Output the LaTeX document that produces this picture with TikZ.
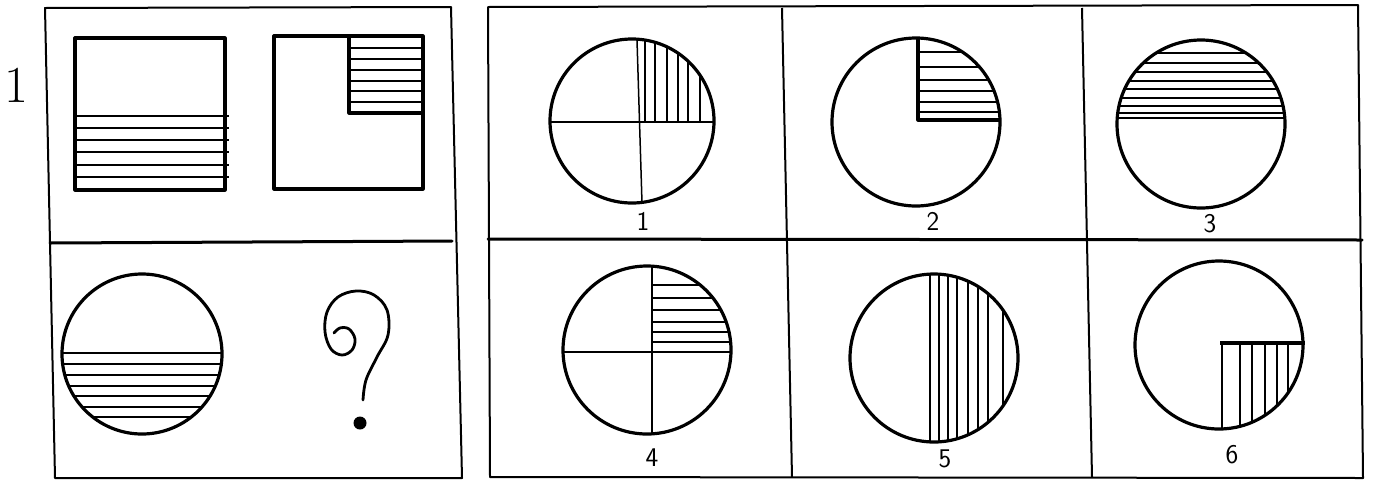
\documentclass[tikz,border=0pt]{standalone}
\usepackage{fontspec}
\begin{document}
\begin{tikzpicture}[x=1pt,y=-1pt,
  frame/.style={line width=2pt, line join=round},
  divider/.style={line width=3pt, line cap=round},
  outline/.style={line width=3.2pt, line join=round},
  hatch/.style={line width=1.8pt},
  split/.style={line width=1.5pt},
  lbl/.style={font=\sffamily\fontsize{27}{30}\selectfont, inner sep=0pt}]
\useasboundingbox[fill=white] (0,0) rectangle (1373,480);

% ---------- item number ----------
\node[font=\fontsize{52}{56}\selectfont, inner sep=0pt] (num) at (16,85) {1};

% ---------- left panel ----------
\draw[frame] (45,8) -- (451,7) -- (462,478) -- (55,478) -- cycle;
\draw[divider] (50,243) -- (452,241);

% top-left rectangle, lower half hatched
\draw[outline] (75,38) rectangle (225,190);
\foreach \y in {116,128,140,152,165,177}
  \draw[hatch] (75,\y) -- (229,\y);

% top-right square, top-right quarter hatched
\draw[outline] (274,36) rectangle (423,189);
\draw[outline] (349,36) -- (349,113) -- (423,113);
\foreach \y in {48,59,70,81,91,102}
  \draw[hatch] (349,\y) -- (425,\y);

% bottom-left circle, lower half hatched
\begin{scope}
  \clip (142,354) circle (80);
  \foreach \y in {353,364,375,386,396,407,417}
    \draw[hatch] (55,\y) -- (230,\y);
\end{scope}
\draw[outline] (142,354) circle (80);

% question mark
\draw[line width=2.8pt, line cap=round]
  plot[smooth, tension=0.6] coordinates {(363,400) (366,380) (377,357) (388,335) (387,310) (374,295) (356,291) (338,297) (327,312) (325,332) (331,349) (342,355) (352,350) (355,339) (349,329) (340,328) (334,333)};
\fill (360,423) circle (6.5);

% ---------- right panel ----------
\draw[frame] (488,7) -- (1358,5) -- (1363,478) -- (490,477) -- cycle;
\draw[divider] (488,239) -- (1362,240);
\draw[frame] (782,8) -- (792,477);
\draw[frame] (1082,8) -- (1092,477);

% option 1
\begin{scope}
  \clip (632,121) circle (82);
  \foreach \x in {645,655,667,678,688,700}
    \draw[hatch] (\x,122) -- (\x,30);
\end{scope}
\draw[outline] (632,121) circle (82);
\draw[split] (550,122) -- (713,122);
\draw[split] (637,40) -- (642,203);
\node[lbl] (l1) at (643,221) {1};

% option 2
\begin{scope}
  \clip (916,122) circle (84);
  \foreach \y in {52,67,80,91,102,112}
    \draw[hatch] (918,\y) -- (1010,\y);
\end{scope}
\draw[outline] (916,122) circle (84);
\draw[outline] (918,38) -- (918,120) -- (1000,120);
\node[lbl] (l2) at (933,221) {2};

% option 3
\begin{scope}
  \clip (1201,124) circle (84);
  \foreach \y in {53,63,72,81,89,98,106,113,118}
    \draw[hatch] (1110,\y) -- (1290,\y);
\end{scope}
\draw[outline] (1201,124) circle (84);
\node[lbl] (l3) at (1210,224) {3};

% option 4
\begin{scope}
  \clip (647,350) circle (84);
  \foreach \y in {285,298,310,322,332,342}
    \draw[hatch] (652,\y) -- (740,\y);
\end{scope}
\draw[outline] (647,350) circle (84);
\draw[split] (563,352) -- (732,352);
\draw[split] (652,266) -- (652,434);
\node[lbl] (l4) at (652,458) {4};

% option 5
\begin{scope}
  \clip (934,358) circle (84);
  \foreach \x in {930,939,948,957,968,978,988,1003}
    \draw[hatch] (\x,270) -- (\x,445);
\end{scope}
\draw[outline] (934,358) circle (84);
\node[lbl] (l5) at (945,459) {5};

% option 6
\begin{scope}
  \clip (1219,345) circle (84);
  \foreach \x in {1222,1240,1252,1265,1277,1288}
    \draw[hatch] (\x,343) -- (\x,440);
\end{scope}
\draw[outline] (1219,345) circle (84);
\draw[outline] (1220,343) -- (1305,343);
\node[lbl] (l6) at (1232,455) {6};
\end{tikzpicture}
\end{document}
